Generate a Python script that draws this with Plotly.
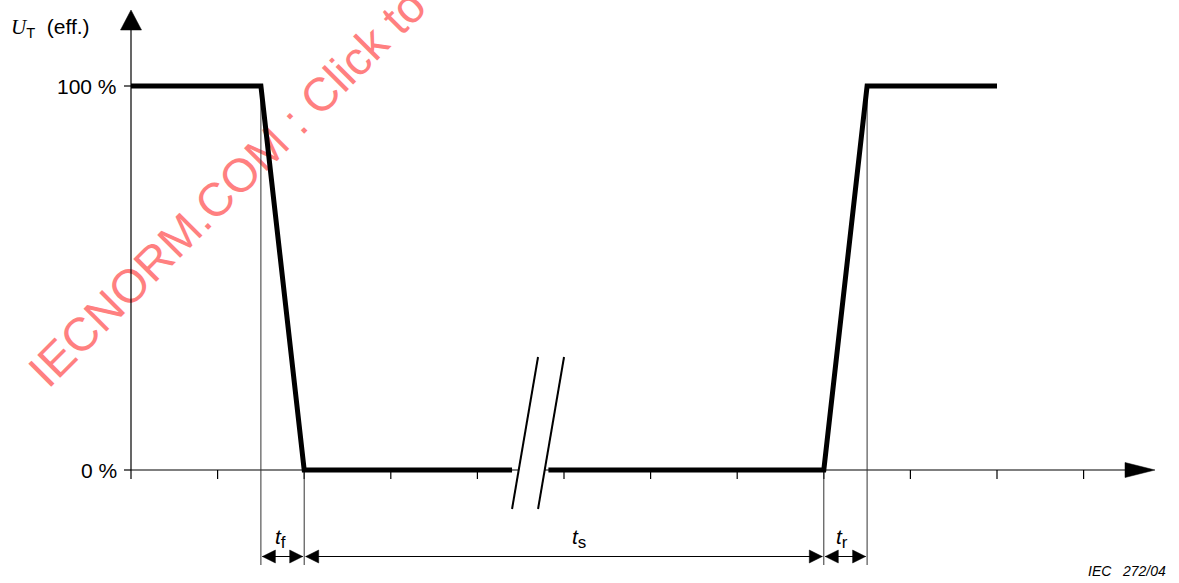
import plotly.graph_objects as go

# ---------------- data ----------------
time_before = [0, 1.5, 2.0, 4.4]          # time units (one unit = one x tick)
level_before = [100, 100, 0, 0]           # % of U_T
time_after = [4.82, 8.0, 8.5, 10.0]
level_after = [0, 0, 100, 100]
x_ticks = list(range(12))
y_tick_vals = [0, 100]
y_tick_text = ["0 %", "100 %"]
dim_names = ["f", "s", "r"]
dim_start = [1.5, 2.0, 8.0]
dim_end = [2.0, 8.0, 8.5]
dim_label_x = [1.73, 5.17, 8.21]
y_title = "<i><span style=\"font-family:'Liberation Serif'\">U</span></i><sub>T</sub>&nbsp; (eff.)"
fig_code = "IEC&nbsp;&nbsp; 272/04"
watermark = "IECNORM.COM : Click to"

# ---------------- geometry of the canvas ----------------
W, H = 1179, 583
X0, XS = 131, 86.6     # pixel of t=0 and pixels per time unit
Y0, YS = 470, 3.84     # pixel of 0 % and pixels per %


def dx(p):
    return p / XS


def dy(p):
    return p / YS


def ux(px):
    return (px - X0) / XS


def uy(py):
    return (Y0 - py) / YS


x_range = [-X0 / XS, (W - X0) / XS]
y_range = [-(H - Y0) / YS, Y0 / YS]

FONT = "Liberation Sans, Arial, sans-serif"
fig = go.Figure()


def seg_trace(xs, ys, width=1, color="black"):
    fig.add_trace(go.Scatter(x=xs, y=ys, mode="lines", hoverinfo="skip",
                             line=dict(color=color, width=width), showlegend=False))


def tri(xs, ys, color="black"):
    fig.add_trace(go.Scatter(x=xs, y=ys, mode="lines", fill="toself", fillcolor=color,
                             line=dict(color=color, width=0.5), hoverinfo="skip",
                             showlegend=False))


# axes
x_end = ux(1125)
x_tip = ux(1155)
y_end = uy(30)
y_tip = uy(10)
seg_trace([0, x_end], [0, 0], 1.2)
seg_trace([0, 0], [0, y_end], 1.2)
tri([x_end, x_tip, x_end, x_end], [dy(7.5), 0, -dy(7.5), dy(7.5)])
tri([-dx(10.5), 0, dx(10.5), -dx(10.5)], [y_end, y_tip, y_end, y_end])

# ticks
tx, ty = [], []
for t in x_ticks:
    tx += [t, t, None]
    ty += [0, -dy(9), None]
for v in y_tick_vals:
    tx += [-dx(7), 0, None]
    ty += [v, v, None]
seg_trace(tx, ty, 1.2)

# vertical guide lines
level_at = dict(zip(time_before + time_after, level_before + level_after))
guides = sorted(set(dim_start + dim_end))
gx, gy = [], []
y_guide_bottom = uy(565)
for g in guides:
    gx += [g, g, None]
    gy += [level_at[g], y_guide_bottom, None]
seg_trace(gx, gy, 1, "#333333")

# time break (white gap + two slashes)
b0 = time_before[-1]
sh = dx(26)
yb, yt = uy(509), uy(357)
fig.add_trace(go.Scatter(x=[b0, b0 + sh, b0 + 2 * sh, b0 + sh, b0],
                         y=[yb, yt, yt, yb, yb], mode="lines", fill="toself",
                         fillcolor="white", line=dict(color="white", width=0),
                         hoverinfo="skip", showlegend=False))

# signal
fig.add_trace(go.Scatter(x=time_before, y=level_before, mode="lines",
                         line=dict(color="black", width=5), hoverinfo="skip",
                         showlegend=False))
fig.add_trace(go.Scatter(x=time_after, y=level_after, mode="lines",
                         line=dict(color="black", width=5), hoverinfo="skip",
                         showlegend=False))

seg_trace([b0, b0 + sh, None, b0 + sh, b0 + 2 * sh], [yb, yt, None, yb, yt], 2)

# dimension lines
y_dim = uy(556.5)
al, ah = dx(13), dy(6.5)
for a, b in zip(dim_start, dim_end):
    a2 = a + dx(1.5)
    b2 = b - dx(1.5)
    seg_trace([a2, b2], [y_dim, y_dim], 1.2)
    tri([a2, a2 + al, a2 + al, a2], [y_dim, y_dim + ah, y_dim - ah, y_dim])
    tri([b2, b2 - al, b2 - al, b2], [y_dim, y_dim + ah, y_dim - ah, y_dim])

annotations = []
for v, txt in zip(y_tick_vals, y_tick_text):
    annotations.append(dict(x=ux(119), y=v, xref="x", yref="y", text=txt,
                            showarrow=False, xanchor="right", yanchor="middle",
                            font=dict(family=FONT, size=21, color="black")))
annotations.append(dict(x=ux(9), y=uy(28), xref="x", yref="y", text=y_title,
                        showarrow=False, xanchor="left", yanchor="middle",
                        font=dict(family=FONT, size=21, color="black")))
for name, lx in zip(dim_names, dim_label_x):
    annotations.append(dict(x=lx, y=uy(538), xref="x", yref="y",
                            text="<i>t</i><sub><span style='font-size:17px'>%s</span></sub>" % name,
                            showarrow=False, xanchor="center", yanchor="middle",
                            font=dict(family=FONT, size=21, color="black")))
annotations.append(dict(x=ux(1168), y=uy(571), xref="x", yref="y",
                        text="<i>%s</i>" % fig_code, showarrow=False,
                        xanchor="right", yanchor="middle",
                        font=dict(family=FONT, size=14, color="black")))

shapes = [dict(type="line", xref="x", yref="y", layer="below",
               x0=ux(21), y0=uy(388), x1=ux(427), y1=uy(-18),
               line=dict(width=0, color="rgba(0,0,0,0)"),
               label=dict(text=watermark, textposition="middle", textangle=-45,
                          yanchor="middle",
                          font=dict(family=FONT, size=47, color="#ff8080")))]

fig.update_layout(
    width=W, height=H, margin=dict(l=0, r=0, t=0, b=0),
    paper_bgcolor="white", plot_bgcolor="white",
    xaxis=dict(range=x_range, visible=False, fixedrange=True),
    yaxis=dict(range=y_range, visible=False, fixedrange=True),
    annotations=annotations, shapes=shapes, showlegend=False,
)

fig.write_html("out.html", config={"displayModeBar": False},
               post_script="document.body.style.margin='0';document.body.style.overflow='hidden';")
